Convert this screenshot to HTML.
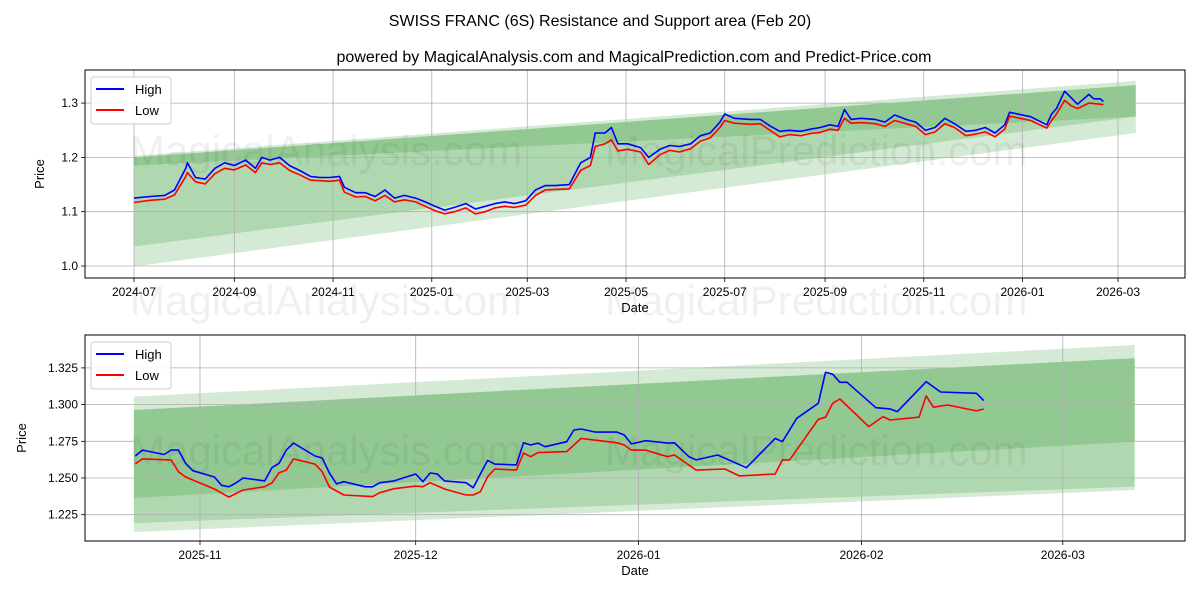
<!DOCTYPE html>
<html><head><meta charset="utf-8"><style>
body{margin:0;background:#fff;}
svg text{font-family:"Liberation Sans","DejaVu Sans",sans-serif;}
</style></head><body>
<svg id="c" width="1200" height="600" viewBox="0 0 1200 600" xmlns="http://www.w3.org/2000/svg">
<rect width="1200" height="600" fill="#fff"/>
<text x="600" y="26" font-size="16" text-anchor="middle">SWISS FRANC (6S) Resistance and Support area (Feb 20)</text>
<text x="634" y="62" font-size="16" text-anchor="middle">powered by MagicalAnalysis.com and MagicalPrediction.com and Predict-Price.com</text>
<g id="top"></g><g id="bot"></g>
</svg>
<script>
// ---- top chart data (days since 2024-07-01) ----
const topDays=[0,10,19,25,32,33,38,44,50,56,62,69,75,79,84,90,96,103,109,115,121,127,130,137,143,149,155,161,167,174,180,186,192,198,205,211,217,223,229,235,242,248,254,260,269,276,282,285,291,295,299,305,313,318,325,331,337,344,350,356,362,365,371,381,387,393,399,405,412,418,424,430,435,439,443,449,458,464,470,477,483,489,495,501,507,514,520,526,532,538,541,554,564,567,570,575,579,583,590,593,597,599];
const topHigh=[1.125,1.128,1.13,1.14,1.18,1.19,1.163,1.16,1.18,1.19,1.185,1.195,1.18,1.2,1.195,1.2,1.185,1.175,1.165,1.163,1.163,1.165,1.145,1.135,1.135,1.128,1.14,1.125,1.13,1.125,1.118,1.11,1.103,1.108,1.115,1.105,1.11,1.115,1.118,1.115,1.12,1.14,1.148,1.148,1.15,1.19,1.2,1.245,1.245,1.255,1.225,1.225,1.218,1.2,1.215,1.222,1.22,1.225,1.24,1.245,1.265,1.28,1.272,1.27,1.27,1.258,1.248,1.25,1.248,1.252,1.255,1.26,1.257,1.288,1.27,1.272,1.27,1.265,1.278,1.27,1.265,1.25,1.255,1.272,1.262,1.248,1.25,1.255,1.245,1.26,1.283,1.275,1.26,1.28,1.29,1.322,1.31,1.298,1.316,1.308,1.308,1.303];
const topLow=[1.117,1.121,1.123,1.131,1.165,1.172,1.155,1.151,1.17,1.18,1.177,1.186,1.172,1.19,1.187,1.19,1.176,1.167,1.158,1.157,1.156,1.158,1.136,1.127,1.128,1.12,1.13,1.118,1.122,1.118,1.11,1.102,1.096,1.1,1.107,1.096,1.1,1.107,1.11,1.108,1.112,1.13,1.14,1.141,1.142,1.176,1.185,1.22,1.225,1.232,1.212,1.215,1.21,1.187,1.205,1.213,1.21,1.216,1.23,1.236,1.255,1.268,1.263,1.261,1.262,1.25,1.238,1.242,1.24,1.244,1.246,1.252,1.25,1.272,1.263,1.264,1.262,1.257,1.268,1.262,1.257,1.242,1.247,1.262,1.255,1.24,1.243,1.247,1.238,1.252,1.276,1.268,1.254,1.268,1.28,1.305,1.295,1.29,1.3,1.299,1.298,1.297];
const topBandDays=[0,619];
const topL1Up=[1.203,1.341], topL1Lo=[0.999,1.245];
const topL2Up=[1.2,1.333], topL2Lo=[1.036,1.275];
const topL3Up=[1.2,1.333], topL3Lo=[1.185,1.275];
const topXTicks=["2024-07","2024-09","2024-11","2025-01","2025-03","2025-05","2025-07","2025-09","2025-11","2026-01","2026-03"];
const topXTickDays=[0,62,123,184,243,304,365,427,488,549,608];
const topYTicks=[1.0,1.1,1.2,1.3];
// ---- bottom chart data (days since 2025-11-01) ----
const botHighDays=[-9,-8,-5,-4,-3,-2,-1,2,3,4,5,6,9,10,11,12,13,16,17,18,19,20,23,24,25,27,30,31,32,33,34,37,38,39,40,41,44,45,46,47,48,51,52,53,55,58,59,60,62,65,66,68,69,72,76,80,81,83,86,87,88,89,90,94,96,97,101,103,108,109];
const botHigh=[1.265,1.269,1.266,1.269,1.269,1.26,1.255,1.2507,1.245,1.244,1.2466,1.25,1.248,1.257,1.26,1.269,1.2738,1.265,1.2636,1.2534,1.246,1.2475,1.244,1.244,1.2468,1.248,1.2527,1.2475,1.2534,1.2527,1.248,1.2468,1.2434,1.2527,1.262,1.2595,1.2589,1.274,1.2725,1.2738,1.2713,1.2747,1.2827,1.2834,1.2813,1.2813,1.2793,1.2732,1.2754,1.2738,1.274,1.2645,1.2623,1.2657,1.257,1.277,1.2747,1.2907,1.3009,1.322,1.3207,1.3152,1.3152,1.2979,1.297,1.2952,1.3156,1.3086,1.3077,1.3027];
const botLowDays=[-9,-8,-4,-3,-2,2,4,6,9,10,11,12,13,16,17,18,20,24,25,27,30,31,32,34,37,38,39,40,41,44,45,46,47,51,53,58,59,60,62,65,66,69,73,75,80,81,82,86,87,88,89,93,95,96,100,101,102,104,108,109];
const botLow=[1.2597,1.263,1.2623,1.2543,1.2507,1.2425,1.237,1.2418,1.2441,1.2466,1.2536,1.2554,1.263,1.2595,1.2543,1.2439,1.2384,1.2373,1.24,1.2427,1.2445,1.2441,1.2468,1.2425,1.2384,1.2384,1.2407,1.2509,1.2561,1.2554,1.267,1.2645,1.2673,1.268,1.277,1.274,1.2725,1.269,1.269,1.2645,1.2657,1.2554,1.2561,1.2514,1.2527,1.2623,1.2623,1.29,1.2914,1.3009,1.3038,1.285,1.2918,1.2895,1.2914,1.3059,1.2982,1.2997,1.2957,1.297];
const botBandDays=[-9.2,130];
const botL1Up=[1.3054,1.3406], botL1Lo=[1.2132,1.2418];
const botL2Up=[1.2963,1.3317], botL2Lo=[1.2193,1.2441];
const botL3Up=[1.2963,1.3317], botL3Lo=[1.2364,1.2747];
const botXTicks=["2025-11","2025-12","2026-01","2026-02","2026-03"];
const botXTickDays=[0,30,61,92,120];
const botYTicks=[1.225,1.25,1.275,1.3,1.325];

const NS="http://www.w3.org/2000/svg";
function mk(parent,tag,attrs){const e=document.createElementNS(NS,tag);for(const k in attrs)e.setAttribute(k,attrs[k]);parent.appendChild(e);return e;}

function drawChart(g,o){
  const X=o.x, Y=o.y;
  const bands=[[o.b1u,o.b1l],[o.b2u,o.b2l],[o.b3u,o.b3l]];
  bands.forEach((b,i)=>{
    const d=o.bd;
    const pts=`${X(d[0])},${Y(b[0][0])} ${X(d[1])},${Y(b[0][1])} ${X(d[1])},${Y(b[1][1])} ${X(d[0])},${Y(b[1][0])}`;
    const p=mk(g,'polygon',{points:pts,fill:'rgb(0,128,0)','fill-opacity':0.17});
    
    
  });
  o.xtd.forEach((d,i)=>{
    const l=mk(g,'line',{x1:X(d),x2:X(d),y1:o.top,y2:o.bot,stroke:'#b0b0b0','stroke-width':0.8});
    
    
    mk(g,'line',{x1:X(d),x2:X(d),y1:o.bot,y2:o.bot+4,stroke:'#000','stroke-width':0.8});
    const t=mk(g,'text',{x:X(d),y:o.bot+18,'font-size':12,'text-anchor':'middle'});
    t.textContent=o.xt[i];
    
    
  });
  o.yt.forEach(v=>{
    const l=mk(g,'line',{x1:o.left,x2:o.right,y1:Y(v),y2:Y(v),stroke:'#b0b0b0','stroke-width':0.8});
    
    
    mk(g,'line',{x1:o.left-4,x2:o.left,y1:Y(v),y2:Y(v),stroke:'#000','stroke-width':0.8});
    const t=mk(g,'text',{x:o.left-7,y:Y(v)+4,'font-size':12,'text-anchor':'end'});
    t.textContent=o.yfmt(v);
    
    
  });
  const w1=mk(g,'text',{x:o.wm1x,y:o.wmy,'font-size':42,fill:'#000','fill-opacity':0.06});
  w1.textContent='MagicalAnalysis.com';
  
  
  const w2=mk(g,'text',{x:o.wm2x,y:o.wmy,'font-size':42,fill:'#000','fill-opacity':0.06});
  w2.textContent='MagicalPrediction.com';
  
  
  const hp=o.hd.map((d,i)=>X(d).toFixed(1)+','+Y(o.hv[i]).toFixed(1)).join(' ');
  const lp=o.ld.map((d,i)=>X(d).toFixed(1)+','+Y(o.lv[i]).toFixed(1)).join(' ');
  const hl=mk(g,'polyline',{points:hp,fill:'none',stroke:'#0000ff','stroke-width':1.6,'stroke-linejoin':'round'});
  
  
  const ll=mk(g,'polyline',{points:lp,fill:'none',stroke:'#ff0000','stroke-width':1.6,'stroke-linejoin':'round'});
  
  
  const f=mk(g,'rect',{x:o.left,y:o.top,width:o.right-o.left,height:o.bot-o.top,fill:'none',stroke:'#000','stroke-width':1});
  
  
  const xl=mk(g,'text',{x:(o.left+o.right)/2,y:o.bot+34,'font-size':13,'text-anchor':'middle'});
  xl.textContent='Date';
  
  
  const cy=(o.top+o.bot)/2;
  const yl=mk(g,'text',{x:o.ylx,y:cy,'font-size':13,'text-anchor':'middle',transform:`rotate(-90 ${o.ylx} ${cy})`});
  yl.textContent='Price';
  
  
  const lg=mk(g,'g',{});
  
  
  const lx=o.left+6, ly=o.top+7;
  mk(lg,'rect',{x:lx,y:ly,width:80,height:47,rx:3,fill:'#fff','fill-opacity':0.85,stroke:'#ccc'});
  const e1=mk(lg,'g',{});
  
  
  mk(e1,'line',{x1:lx+5,x2:lx+33,y1:ly+12,y2:ly+12,stroke:'#0000ff','stroke-width':2});
  const t1=mk(e1,'text',{x:lx+44,y:ly+17,'font-size':13});t1.textContent='High';
  const e2=mk(lg,'g',{});
  
  
  mk(e2,'line',{x1:lx+5,x2:lx+33,y1:ly+33,y2:ly+33,stroke:'#ff0000','stroke-width':2});
  const t2=mk(e2,'text',{x:lx+44,y:ly+38,'font-size':13});t2.textContent='Low';
}

drawChart(document.getElementById('top'),{
  left:85,right:1185,top:70,bot:278,ylx:44,
  x:d=>134+d*1.6184, y:v=>266-(v-1.0)*543,
  bd:topBandDays,b1u:topL1Up,b1l:topL1Lo,b2u:topL2Up,b2l:topL2Lo,b3u:topL3Up,b3l:topL3Lo,
  xt:topXTicks,xtd:topXTickDays,yt:topYTicks,yfmt:v=>v.toFixed(1),
  hd:topDays,hv:topHigh,ld:topDays,lv:topLow,
  wm1x:130,wm2x:605,wmy:165
});
drawChart(document.getElementById('bot'),{
  left:85,right:1185,top:335,bot:541,ylx:26,
  x:d=>200+d*7.19, y:v=>478-(v-1.25)*1468,
  bd:botBandDays,b1u:botL1Up,b1l:botL1Lo,b2u:botL2Up,b2l:botL2Lo,b3u:botL3Up,b3l:botL3Lo,
  xt:botXTicks,xtd:botXTickDays,yt:botYTicks,yfmt:v=>v.toFixed(3),
  hd:botHighDays,hv:botHigh,ld:botLowDays,lv:botLow,
  wm1x:130,wm2x:605,wmy:465
});
const svg=document.getElementById('c');
const wa=mk(svg,'text',{x:130,y:315,'font-size':42,fill:'#000','fill-opacity':0.06});
wa.textContent='MagicalAnalysis.com';


const wb=mk(svg,'text',{x:605,y:315,'font-size':42,fill:'#000','fill-opacity':0.06});
wb.textContent='MagicalPrediction.com';


</script>
</body></html>
